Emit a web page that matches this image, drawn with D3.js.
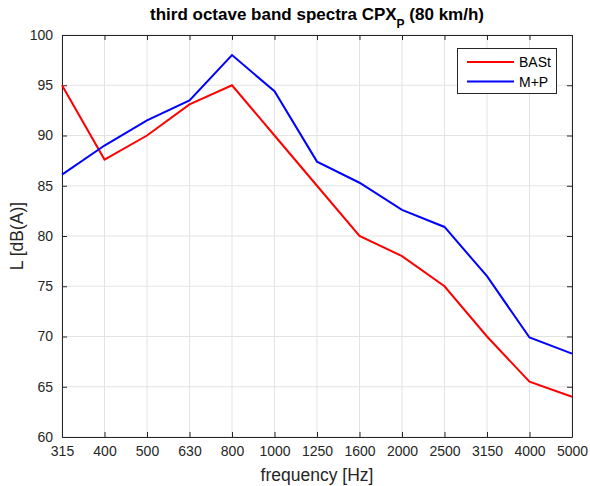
<!DOCTYPE html>
<html><head><meta charset="utf-8">
<script src="https://cdn.jsdelivr.net/npm/d3@7"></script>
<style>body{margin:0;background:#fff}svg{display:block;font-family:"Liberation Sans",Arial,sans-serif}</style>
</head><body>
<script>
const categories = ["315","400","500","630","800","1000","1250","1600","2000","2500","3150","4000","5000"];
const bast = [95,87.6,90,93.1,95,90,85,80,78,75,70,65.5,64];
const mp = [86.1,89,91.5,93.5,98,94.4,87.4,85.3,82.6,80.9,76,69.9,68.3];
const yTicks = [60,65,70,75,80,85,90,95,100];
const seriesNames = ["BASt","M+P"];
const seriesColors = ["#ff0000","#0000ff"];

const W=590,H=486;
const m={l:62,r:18,t:35,b:49};
const svg=d3.select("body").append("svg").attr("width",W).attr("height",H);
const x=d3.scalePoint().domain(categories).range([m.l,W-m.r]);
const y=d3.scaleLinear().domain([60,100]).range([H-m.b,m.t]);
const pw=W-m.r-m.l, ph=H-m.b-m.t;

// grid
const g=svg.append("g");
g.selectAll(".gx").data(categories).enter().append("line")
 .attr("x1",d=>x(d)).attr("x2",d=>x(d)).attr("y1",m.t).attr("y2",H-m.b)
 .attr("stroke","#e3e3e3").attr("stroke-width",1);
g.selectAll(".gy").data(yTicks).enter().append("line")
 .attr("x1",m.l).attr("x2",W-m.r).attr("y1",d=>y(d)).attr("y2",d=>y(d))
 .attr("stroke","#e3e3e3").attr("stroke-width",1);

// axes
const ax=svg.append("g").attr("transform",`translate(0,${H-m.b})`)
 .call(d3.axisBottom(x).tickSizeInner(-5).tickSizeOuter(0).tickPadding(9));
const axT=svg.append("g").attr("transform",`translate(0,${m.t})`)
 .call(d3.axisTop(x).tickSizeInner(-5).tickSizeOuter(0).tickFormat(""));
const ay=svg.append("g").attr("transform",`translate(${m.l},0)`)
 .call(d3.axisLeft(y).tickValues(yTicks).tickSizeInner(-5).tickSizeOuter(0).tickPadding(9));
const ayR=svg.append("g").attr("transform",`translate(${W-m.r},0)`)
 .call(d3.axisRight(y).tickValues(yTicks).tickSizeInner(-5).tickSizeOuter(0).tickFormat(""));
[ax,axT,ay,ayR].forEach(a=>{
  a.selectAll("path").attr("stroke","#262626").attr("stroke-width",1);
  a.selectAll("line").attr("stroke","#262626");
  a.selectAll("text").attr("fill","#262626").style("font-size","14px").style("font-family","'Liberation Sans',Arial,sans-serif");
});

// lines
const line=d3.line().x((d,i)=>x(categories[i])).y(d=>y(d));
[bast,mp].forEach((s,k)=>{
  svg.append("path").datum(s).attr("d",line).attr("fill","none")
   .attr("stroke",seriesColors[k]).attr("stroke-width",2).attr("stroke-linejoin","miter");
});

// title
const t=svg.append("text").attr("x",m.l+pw/2).attr("y",20).attr("text-anchor","middle")
 .style("font-weight","bold").style("font-size","17px").attr("fill","#000");
t.append("tspan").text("third octave band spectra CPX");
t.append("tspan").attr("dy",8).style("font-size","12px").text("P");
t.append("tspan").attr("dy",-8).text(" (80 km/h)");

// axis labels
svg.append("text").attr("x",m.l+pw/2).attr("y",481).attr("text-anchor","middle")
 .style("font-size","17.5px").attr("fill","#262626").text("frequency [Hz]");
svg.append("text").attr("transform",`translate(23,${m.t+ph/2}) rotate(-90)`).attr("text-anchor","middle")
 .style("font-size","17.5px").attr("fill","#262626").text("L [dB(A)]");

// legend
const lg=svg.append("g");
lg.append("rect").attr("x",457.5).attr("y",48.5).attr("width",99).attr("height",45)
 .attr("fill","#fff").attr("stroke","#262626").attr("stroke-width",1);
seriesNames.forEach((n,i)=>{
  const yy=62+i*19.5;
  lg.append("line").attr("x1",467).attr("x2",514).attr("y1",yy).attr("y2",yy)
   .attr("stroke",seriesColors[i]).attr("stroke-width",2);
  lg.append("text").attr("x",519).attr("y",yy+5).style("font-size","14px").attr("fill","#000").text(n);
});
</script>
</body></html>
